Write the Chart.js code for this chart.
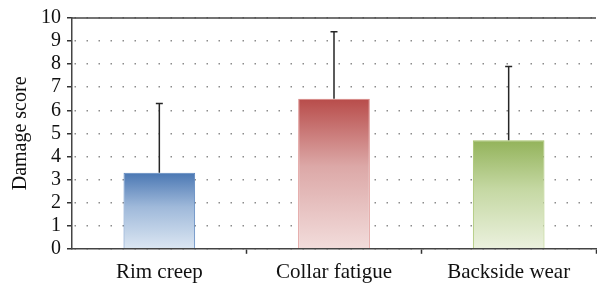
<!DOCTYPE html>
<html>
<head>
<meta charset="utf-8">
<script src="https://cdn.jsdelivr.net/npm/chart.js@4"></script>
<style>
  html, body { margin: 0; padding: 0; background: #fff; }
  #wrap { width: 597px; height: 291px; position: relative; }
</style>
</head>
<body>
<div id="wrap"><canvas id="myChart"></canvas></div>
<script>
// values
const categories = ['Rim creep', 'Collar fatigue', 'Backside wear'];
const meanScores = [3.3, 6.5, 4.7];
const sdScores = [3.0, 2.9, 3.2];
const yTicks = [0, 1, 2, 3, 4, 5, 6, 7, 8, 9, 10];

const topColors = ['#4a77b3', '#b84c4a', '#93b35a'];
const midColors = ['#9fb9da', '#dca8a7', '#c5d8a3'];
const bottomColors = ['#dbe6f2', '#f2dcdb', '#ebf1de'];
const borderColors = ['#5b86bf', '#d98583', '#a6c36c'];

const fontFamily = '"Liberation Serif", "Times New Roman", serif';

function barGradient(context) {
  const chart = context.chart;
  if (!chart.chartArea) return topColors[context.dataIndex];
  const y = chart.scales.y;
  const top = y.getPixelForValue(meanScores[context.dataIndex]);
  const base = y.getPixelForValue(0);
  const g = chart.ctx.createLinearGradient(0, top, 0, base);
  g.addColorStop(0, topColors[context.dataIndex]);
  g.addColorStop(0.45, midColors[context.dataIndex]);
  g.addColorStop(1, bottomColors[context.dataIndex]);
  return g;
}

// upward error bars + solid top frame line
const errorBars = {
  id: 'errorBars',
  afterDatasetsDraw(chart) {
    const ctx = chart.ctx;
    const y = chart.scales.y;
    const meta = chart.getDatasetMeta(0);
    ctx.save();
    ctx.strokeStyle = '#262626';
    ctx.lineWidth = 1.5;
    meta.data.forEach(function (bar, i) {
      const yTop = y.getPixelForValue(meanScores[i] + sdScores[i]);
      ctx.beginPath();
      ctx.moveTo(bar.x, bar.y);
      ctx.lineTo(bar.x, yTop);
      ctx.moveTo(bar.x - 3.5, yTop);
      ctx.lineTo(bar.x + 3.5, yTop);
      ctx.stroke();
    });
    const a = chart.chartArea;
    ctx.strokeStyle = '#444';
    ctx.lineWidth = 1.5;
    ctx.beginPath();
    ctx.moveTo(a.left, a.top);
    ctx.lineTo(a.right, a.top);
    ctx.stroke();
    ctx.restore();
  }
};

let ctx = document.getElementById('myChart').getContext('2d');
let myChart = new Chart(ctx, {
  type: 'bar',
  data: {
    labels: categories,
    datasets: [{
      data: meanScores,
      backgroundColor: barGradient,
      borderColor: borderColors,
      borderWidth: 1,
      borderSkipped: 'bottom',
      categoryPercentage: 1,
      barPercentage: 0.41
    }]
  },
  options: {
    responsive: true,
    maintainAspectRatio: false,
    animation: false,
    layout: { padding: { top: 2, right: 1, bottom: 0, left: 2 } },
    plugins: {
      legend: { display: false },
      tooltip: { enabled: false }
    },
    scales: {
      x: {
        grid: {
          offset: true,
          drawOnChartArea: false,
          drawTicks: true,
          tickLength: 5,
          tickColor: function (c) {
            return (c.index === 0 || c.index === categories.length) ? 'rgba(0,0,0,0)' : '#333';
          },
          tickWidth: 1.5
        },
        border: { color: '#444', width: 1.5 },
        ticks: {
          color: '#111',
          padding: 6,
          font: { family: fontFamily, size: 21 }
        }
      },
      y: {
        min: 0,
        max: 10,
        afterBuildTicks(scale) {
          scale.ticks = yTicks.map(v => ({ value: v }));
        },
        afterFit(scale) {
          scale.width = 70;
        },
        grid: {
          color: '#8c8c8c',
          lineWidth: 1.5,
          drawTicks: true,
          tickLength: 5,
          tickColor: '#333',
          tickWidth: 1.5
        },
        border: { color: '#444', width: 1.5, dash: [1.5, 10.5], dashOffset: 10 },
        ticks: {
          autoSkip: false,
          color: '#111',
          padding: 6,
          font: { family: fontFamily, size: 20 }
        },
        title: {
          display: true,
          text: 'Damage score',
          color: '#111',
          padding: { top: 7, bottom: 4 },
          font: { family: fontFamily, size: 20 }
        }
      }
    }
  },
  plugins: [errorBars]
});
</script>
</body>
</html>
